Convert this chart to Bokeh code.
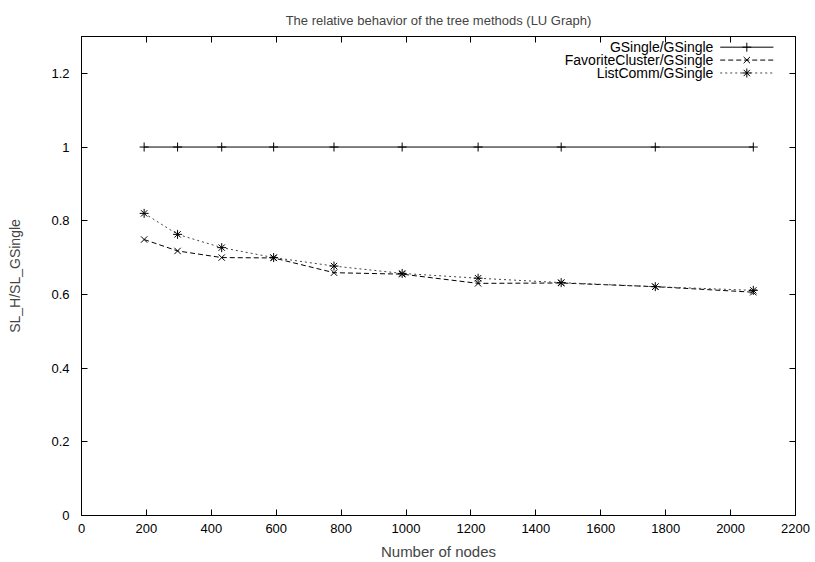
from bokeh.plotting import figure
from bokeh.embed import file_html
from bokeh.resources import INLINE
from bokeh.models import LinearAxis, FixedTicker, Range1d
from bokeh.core.properties import value

# ---- data ----
nodes = [193, 296, 432, 592, 778, 988, 1222, 1478, 1768, 2070]
gsingle = [1.0, 1.0, 1.0, 1.0, 1.0, 1.0, 1.0, 1.0, 1.0, 1.0]
favorite = [0.749, 0.718, 0.700, 0.699, 0.659, 0.655, 0.630, 0.631, 0.621, 0.606]
listcomm = [0.820, 0.763, 0.727, 0.700, 0.677, 0.657, 0.644, 0.632, 0.621, 0.611]
series_names = ["GSingle/GSingle", "FavoriteCluster/GSingle", "ListComm/GSingle"]
x_ticks = [0, 200, 400, 600, 800, 1000, 1200, 1400, 1600, 1800, 2000, 2200]
y_ticks = [0, 0.2, 0.4, 0.6, 0.8, 1.0, 1.2]
y_tick_labels = ["0", "0.2", "0.4", "0.6", "0.8", "1", "1.2"]

FONT = "Liberation Sans"

p = figure(width=810, height=562, output_backend="svg", toolbar_location=None,
           x_range=Range1d(0, 2200), y_range=Range1d(0, 1.3),
           min_border_left=81, min_border_right=15, min_border_top=36, min_border_bottom=46,
           title="The relative behavior of the tree methods (LU Graph)")
p.title.align = "center"
p.title.text_font = FONT
p.title.text_font_size = "13px"
p.title.text_font_style = "normal"
p.title.standoff = 17
p.grid.visible = False
p.outline_line_color = "black"
p.outline_line_width = 1

def style_axis(ax, labels=True):
    ax.axis_line_color = "black"
    ax.major_tick_in = 6
    ax.major_tick_out = 0
    ax.minor_tick_in = 0
    ax.minor_tick_out = 0
    ax.major_tick_line_color = "black"
    ax.major_label_text_font = FONT
    ax.major_label_text_font_size = "13px"
    ax.major_label_text_color = "black"
    ax.axis_label_text_font = FONT
    ax.axis_label_text_font_size = "15px"
    ax.axis_label_text_font_style = "normal"
    if not labels:
        ax.major_label_standoff = 0

xax = p.xaxis[0]
yax = p.yaxis[0]
xax.ticker = FixedTicker(ticks=x_ticks)
yax.ticker = FixedTicker(ticks=y_ticks)
yax.major_label_overrides = {t: l for t, l in zip(y_ticks, y_tick_labels)}
xax.axis_label = "Number of nodes"
yax.axis_label = "SL_H/SL_GSingle"
style_axis(xax)
style_axis(yax)
yax.axis_label_text_font_size = "14px"
xax.major_label_standoff = 8
xax.axis_label_standoff = 7
yax.major_label_standoff = 12
yax.axis_label_standoff = 25

top = LinearAxis(ticker=FixedTicker(ticks=x_ticks))
right = LinearAxis(ticker=FixedTicker(ticks=y_ticks))
style_axis(top, labels=False)
style_axis(right, labels=False)
top.major_label_overrides = {t: "" for t in x_ticks}
right.major_label_overrides = {t: "" for t in y_ticks}
p.add_layout(top, "above")
p.add_layout(right, "right")

# ---- series ----
p.line(nodes, gsingle, line_color="black", line_width=1)
p.scatter(nodes, gsingle, marker="cross", size=9, line_color="black", line_width=1)
p.line(nodes, favorite, line_color="black", line_width=1, line_dash="5 3")
p.scatter(nodes, favorite, marker="x", size=9, line_color="black", line_width=1)
p.line(nodes, listcomm, line_color="#444444", line_width=1, line_dash="2 3")
p.scatter(nodes, listcomm, marker="asterisk", size=9, line_color="black", line_width=1)

# ---- gnuplot style key (top right) ----
key_text_x = 1947
key_x0, key_x1, key_xm = 1968, 2132, 2050
key_rows = [1.271, 1.236, 1.201]
styles = [("cross", None, "black"), ("x", "5 3", "black"), ("asterisk", "2 3", "#444444")]
for name, yk, (mk, dash, col) in zip(series_names, key_rows, styles):
    p.text([key_text_x], [yk], text=[name], text_align="right", text_baseline="middle",
           text_font=value(FONT), text_font_size="14px", text_color="black")
    if dash:
        p.line([key_x0, key_x1], [yk, yk], line_color=col, line_width=1, line_dash=dash)
    else:
        p.line([key_x0, key_x1], [yk, yk], line_color=col, line_width=1)
    p.scatter([key_xm], [yk], marker=mk, size=9, line_color="black", line_width=1)

open("out.html", "w").write(file_html(p, INLINE))
